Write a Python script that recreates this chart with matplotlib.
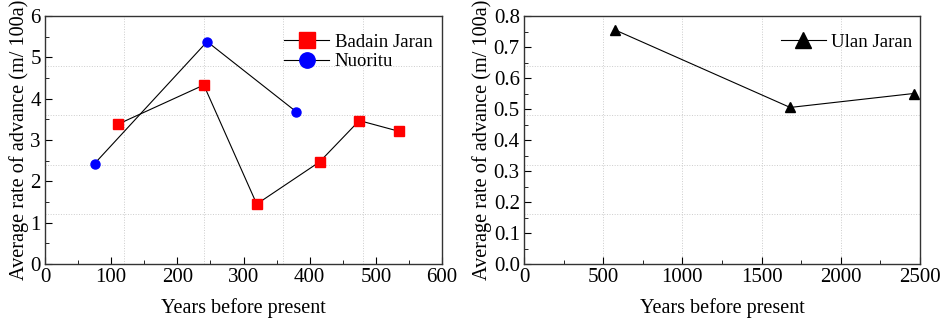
import matplotlib
matplotlib.use("Agg")
import matplotlib.pyplot as plt
from matplotlib.ticker import MultipleLocator

plt.rcParams['font.family'] = ['Liberation Serif', 'DejaVu Serif']

# Badain Jaran
bj_x = [110, 240, 320, 415, 475, 535]
bj_y = [3.38, 4.33, 1.45, 2.47, 3.47, 3.21]
# Nuoritu
nu_x = [75, 245, 380]
nu_y = [2.43, 5.38, 3.68]
# Ulan Jaran
uj_x = [575, 1680, 2460]
uj_y = [0.755, 0.505, 0.55]

ylabel = "Average rate of advance (m/ 100a)"
xlabel = "Years before present"


def style_axes(ax, xmax, ymax, xmaj, xmin, ymaj, ymin):
    ax.set_xlim(0, xmax)
    ax.set_ylim(0, ymax)
    ax.xaxis.set_major_locator(MultipleLocator(xmaj))
    ax.xaxis.set_minor_locator(MultipleLocator(xmin))
    ax.yaxis.set_major_locator(MultipleLocator(ymaj))
    ax.yaxis.set_minor_locator(MultipleLocator(ymin))
    ax.tick_params(which='both', direction='in', top=False, right=False, labelsize=15)
    ax.tick_params(which='major', length=5, pad=3)
    ax.tick_params(which='minor', length=3)
    for s in ax.spines.values():
        s.set_linewidth(1.0)
        s.set_color('#333333')
    # dotted grid dividing the box into fifths
    for k in range(1, 5):
        ax.axvline(xmax * k / 5, color='#cccccc', lw=0.7, ls=':', zorder=0)
        ax.axhline(ymax * k / 5, color='#cccccc', lw=0.7, ls=':', zorder=0)
    ax.set_xlabel(xlabel, fontsize=14.5, labelpad=8)
    ax.set_ylabel(ylabel, fontsize=14.6, labelpad=1)


fig = plt.figure(figsize=(9.41, 3.2), dpi=100)
ax1 = fig.add_axes([45 / 941, 1 - 264 / 320, 397 / 941, 248 / 320])
ax2 = fig.add_axes([524 / 941, 1 - 264 / 320, 396 / 941, 248 / 320])

ax1.plot(bj_x, bj_y, color='black', lw=0.8, marker='s', ms=6.5,
         mfc='red', mec='red', label='Badain Jaran')
ax1.plot(nu_x, nu_y, color='black', lw=0.8, marker='o', ms=6.5,
         mfc='blue', mec='blue', label='Nuoritu')
style_axes(ax1, 600, 6, 100, 50, 1, 0.5)
ax1.legend(loc='upper right', frameon=False, fontsize=13.5, markerscale=1.7,
           handlelength=2.4, handletextpad=0.3, borderaxespad=0.0,
           labelspacing=0.15, bbox_to_anchor=(0.995, 0.96))

ax2.plot(uj_x, uj_y, color='black', lw=0.8, marker='^', ms=7,
         mfc='black', mec='black', label='Ulan Jaran')
style_axes(ax2, 2500, 0.8, 500, 250, 0.1, 0.05)
ax2.yaxis.set_major_formatter(matplotlib.ticker.FormatStrFormatter('%.1f'))
ax2.legend(loc='upper right', frameon=False, fontsize=13.5, markerscale=1.7,
           handlelength=2.4, handletextpad=0.3, borderaxespad=0.0,
           bbox_to_anchor=(1.0, 0.96))

fig.savefig('out.png', dpi=100)
